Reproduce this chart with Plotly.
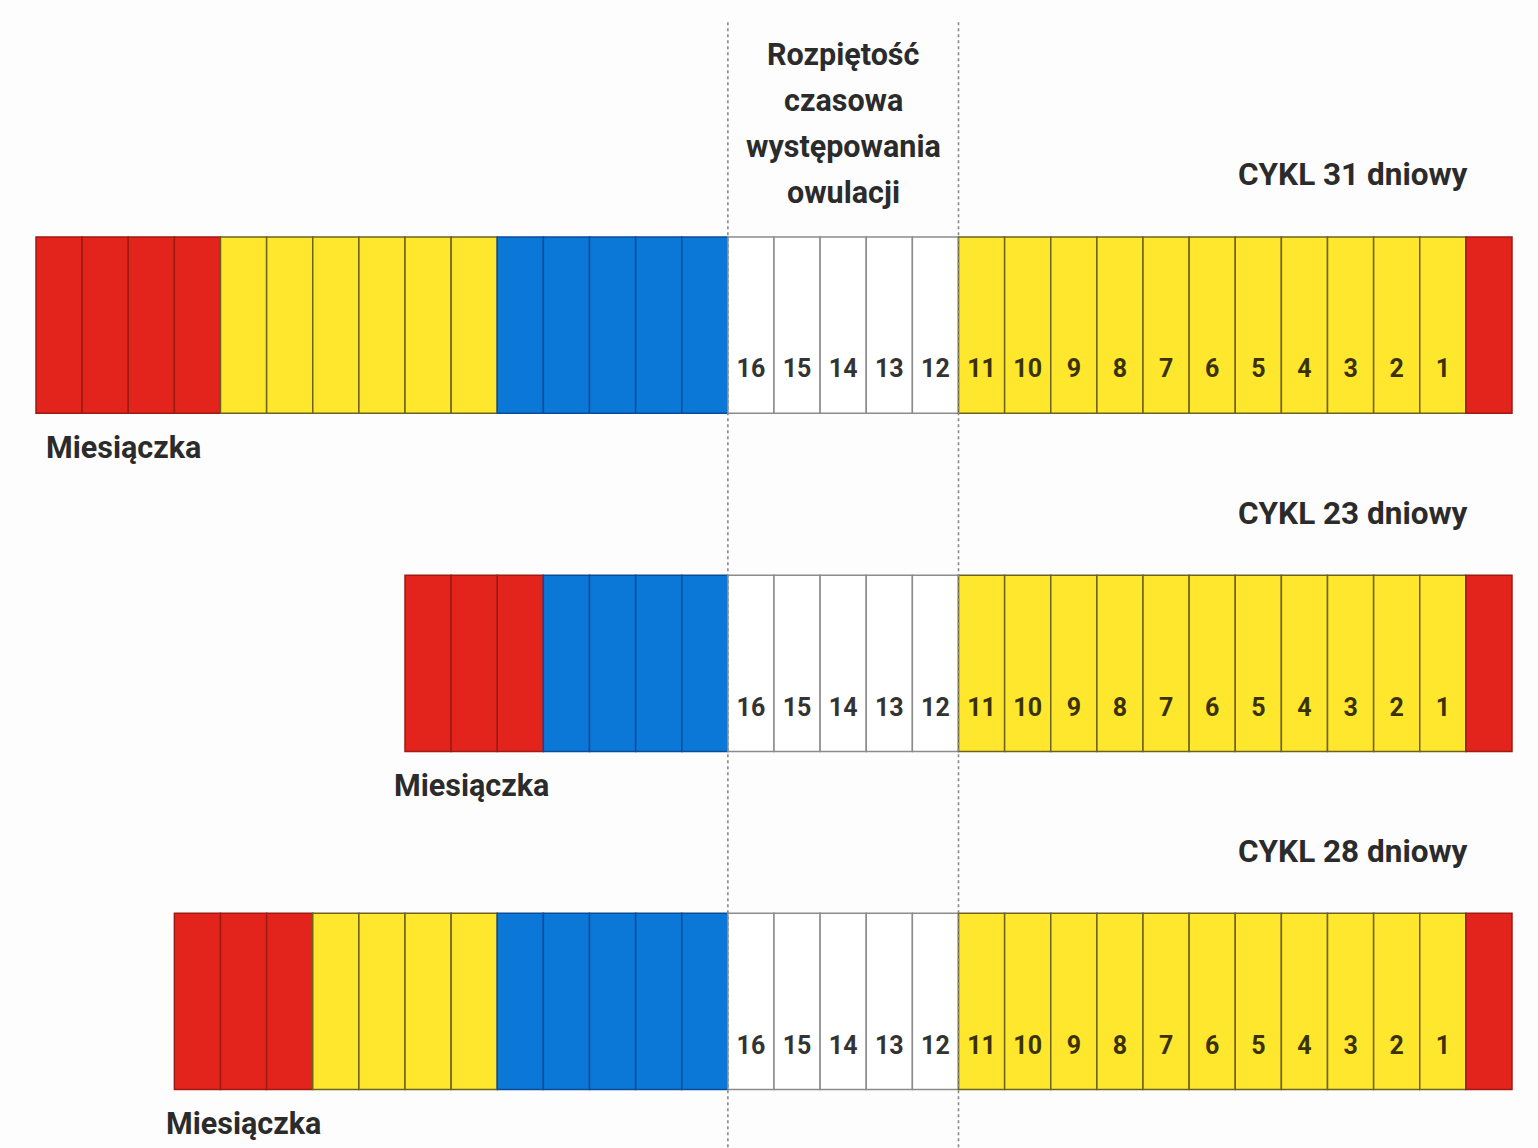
import plotly.graph_objects as go

# ---------------- data ----------------
cycle_names = ["CYKL 31 dniowy", "CYKL 23 dniowy", "CYKL 28 dniowy"]
cycle_lengths = [31, 23, 28]
menses_days = [4, 3, 3]
infertile_pre_days = [6, 0, 4]
fertile_days = [5, 4, 5]
ovulation_window_days = [5, 5, 5]
luteal_days = [11, 11, 11]
next_menses_days = [1, 1, 1]
day_numbers = [16, 15, 14, 13, 12, 11, 10, 9, 8, 7, 6, 5, 4, 3, 2, 1]
ovulation_window = [16, 12]
title_lines = ["Rozpiętość", "czasowa", "występowania", "owulacji"]
menses_label = "Miesiączka"

# ---------------- style ----------------
FONT = "Roboto, Liberation Sans, sans-serif"
TXT = "#2b2b2b"
RED, RED_LINE = "#e3241d", "#9e1a12"
YELLOW, YELLOW_LINE = "#fee72c", "#6e6220"
BLUE, BLUE_LINE = "#0b78d8", "#0a4c98"
WHITE, WHITE_LINE = "#ffffff", "#8c8c8c"
BAR_H = 0.521


def tfont(size, color=TXT):
    return dict(family=FONT, size=size, color=color, weight="bold")


phases = [
    (menses_days, RED, RED_LINE),
    (infertile_pre_days, YELLOW, YELLOW_LINE),
    (fertile_days, BLUE, BLUE_LINE),
    (ovulation_window_days, WHITE, WHITE_LINE),
    (luteal_days, YELLOW, YELLOW_LINE),
    (next_menses_days, RED, RED_LINE),
]

fig = go.Figure()

# dotted lines framing the ovulation window
y_top, y_bot = -0.896, 2.45
x_l = -ovulation_window[0]
x_r = -(ovulation_window[1] - 1)
fig.add_trace(go.Scatter(
    x=[x_l, x_l, None, x_r, x_r], y=[y_top, y_bot, None, y_top, y_bot],
    mode="lines", line=dict(color="#8a8a8a", width=1.6, dash="dot"),
    hoverinfo="skip", showlegend=False))

# cells
phase_cells = [dict(x=[], base=[], y=[]) for _ in phases]
for r, L in enumerate(cycle_lengths):
    pos = -L
    for k, (arr, fill, line) in enumerate(phases):
        for i in range(arr[r]):
            phase_cells[k]["x"].append(1)
            phase_cells[k]["base"].append(pos)
            phase_cells[k]["y"].append(r)
            pos += 1

for k, (arr, fill, line) in enumerate(phases):
    c = phase_cells[k]
    fig.add_trace(go.Bar(
        orientation="h", x=c["x"], base=c["base"], y=c["y"], width=BAR_H,
        marker=dict(color=fill, line=dict(color=line, width=1.5)),
        hoverinfo="skip", showlegend=False))

# day numbers
nx, ny, nt, nc = [], [], [], []
for r, L in enumerate(cycle_lengths):
    for d in day_numbers:
        nx.append(-d + 0.5)
        ny.append(r + 0.136)
        nt.append(str(d))
        nc.append("#333333" if d >= ovulation_window[1] else "#3a3205")
fig.add_trace(go.Scatter(
    x=nx, y=ny, text=nt, mode="text", textposition="middle center",
    textfont=dict(family=FONT, size=25, color=nc, weight="bold"),
    hoverinfo="skip", showlegend=False))

annotations = []
# cycle titles
for r, name in enumerate(cycle_names):
    annotations.append(dict(
        x=0, y=r - 0.444, xref="x", yref="y", text=name,
        xanchor="right", yanchor="middle", xshift=4, showarrow=False,
        font=tfont(31.5)))
# menses labels
shifts = [8, -13, -10]
for r, L in enumerate(cycle_lengths):
    annotations.append(dict(
        x=-L, y=r + 0.361, xref="x", yref="y", text=menses_label,
        xanchor="left", yanchor="middle", xshift=shifts[r], showarrow=False,
        font=tfont(30.5)))
# ovulation window title
title_y = [-0.800, -0.663, -0.527, -0.393]
x_c = (x_l + x_r) / 2
for line, ty in zip(title_lines, title_y):
    annotations.append(dict(
        x=x_c, y=ty, xref="x", yref="y", text=line,
        xanchor="center", yanchor="middle", showarrow=False, font=tfont(30.5)))

fig.update_layout(
    width=1538, height=1148,
    margin=dict(l=0, r=0, t=0, b=0),
    paper_bgcolor="#fdfdfd", plot_bgcolor="#fdfdfd",
    barmode="overlay",
    xaxis=dict(range=[-31 - 36 / 46.125, 1 + 26 / 46.125], visible=False, fixedrange=True),
    yaxis=dict(range=[2.4334, -0.9615], visible=False, fixedrange=True),
    annotations=annotations,
)

fig.write_html("out.html", config={"displayModeBar": False},
               post_script="document.body.style.margin='0';document.body.style.overflow='hidden';")
